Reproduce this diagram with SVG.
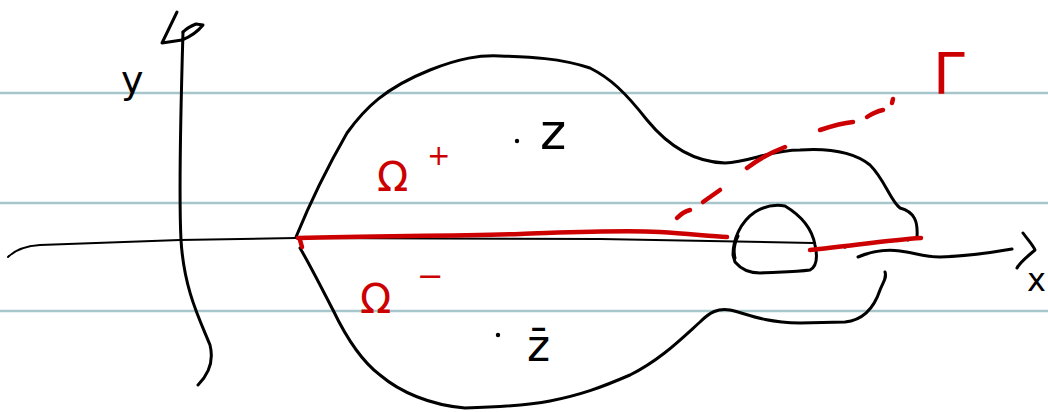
<svg xmlns="http://www.w3.org/2000/svg" width="1048" height="412" viewBox="0 0 1048 412">
  <style>
    .rule { stroke: #a6c6cb; stroke-width: 2.5; fill: none; }
    .ink { stroke: #000; stroke-width: 3; fill: none; stroke-linecap: round; stroke-linejoin: round; }
    .thin { stroke: #000; stroke-width: 2; fill: none; stroke-linecap: round; }
    .red { stroke: #cc0000; stroke-width: 4.5; fill: none; stroke-linecap: round; stroke-linejoin: round; }
    .lbl { font-family: "DejaVu Sans", sans-serif; fill: #000; }
    .rlbl { font-family: "DejaVu Sans", sans-serif; fill: #cc0000; }
  </style>
  <rect width="1048" height="412" fill="#fff"/>
  <g id="rules">
    <line class="rule" x1="0" y1="93" x2="1048" y2="93"/>
    <line class="rule" x1="0" y1="203" x2="1048" y2="203"/>
    <line class="rule" x1="0" y1="311" x2="1048" y2="311"/>
  </g>
  <g id="y-axis">
    <path class="ink" d="M183,32 C181,100 179,200 181,240 C184,290 200,320 210,345 C215,365 205,378 198,385"/>
    <path class="ink" d="M177,12 L162,43 L182,40 C192,36 199,30 203,25 L196,24 C191,26 186,29 183,32"/>
    <text class="lbl" x="121" y="93" font-size="38">y</text>
  </g>
  <g id="x-axis">
    <path class="thin" d="M8,257 C15,250 25,246 40,245 C100,243 150,241 180,240 L296,238 L600,239 L813,243"/>
    <path class="ink" d="M858,257 C870,252 885,249 900,251 C915,253 925,257 940,257 C970,256 995,252 1012,249"/>
    <path class="ink" d="M1023,233 C1028,240 1033,245 1035,250 C1028,256 1020,262 1017,268"/>
    <text class="lbl" x="1027" y="291" font-size="32">x</text>
  </g>
  <g id="domain">
    <path class="ink" d="M296,237 C305,215 320,180 347,133 C365,108 385,88 430,70 C460,58 480,55 500,56 C530,57 560,58 590,68 C610,78 625,92 647,120 C665,142 690,162 725,163 C750,162 770,150 800,150 C830,148 855,153 870,165 C885,180 890,200 900,208 C915,212 918,222 917,237"/>
    <path class="ink" d="M300,248 C310,265 320,285 333,310 C345,335 360,360 380,375 C400,392 430,405 465,408 C500,407 530,405 550,401 C580,395 600,388 630,375 C660,360 680,340 700,322 C710,312 718,308 730,310 C745,313 760,322 800,323 L845,322 C865,320 875,305 880,290 C883,282 887,278 885,272"/>
    <circle cx="845" cy="247" r="1.8" fill="#000"/>
    <circle cx="908" cy="240" r="1.5" fill="#000"/>
  </g>
  <g id="hole">
    <path class="ink" d="M733,255 C733,240 740,222 755,212 C765,206 775,204 785,206 C800,215 812,228 815,245 C818,258 817,266 810,270 C795,272 775,272 760,273 C748,273 740,268 735,262 Z"/>
    <path class="ink" d="M738,236 C735,242 733,250 735,258"/>
  </g>
  <g id="cut">
    <path class="red" d="M298,238 C380,236 450,236 520,234 C580,232 620,230 660,232 C690,234 710,236 727,237"/>
    <path class="red" d="M300,240 L302,247"/>
    <path class="red" d="M810,250 C850,246 890,240 921,238"/>
  </g>
  <g id="gamma">
    <path class="red" d="M677,218 C682,213 686,211 690,210"/>
    <path class="red" d="M703,202 L720,190"/>
    <path class="red" d="M747,168 C760,158 772,152 785,147"/>
    <path class="red" d="M820,130 C832,126 842,123 853,122"/>
    <path class="red" d="M867,117 C873,113 878,111 883,110"/>
    <path class="red" d="M892,103 L893,99"/>
    <text class="rlbl" x="933" y="94" font-size="57">Γ</text>
  </g>
  <g id="labels">
    <text class="rlbl" x="377" y="191" font-size="41">Ω</text>
    <text class="rlbl" x="427" y="165" font-size="28">+</text>
    <text class="rlbl" x="360" y="313" font-size="41">Ω</text>
    <text class="rlbl" x="417" y="287" font-size="32">−</text>
    <circle cx="517" cy="141" r="2.2" fill="#000"/>
    <text class="lbl" x="540" y="149" font-size="50">z</text>
    <circle cx="498" cy="335" r="2.2" fill="#000"/>
    <text class="lbl" x="527" y="361" font-size="44">z̄</text>
  </g>
</svg>
